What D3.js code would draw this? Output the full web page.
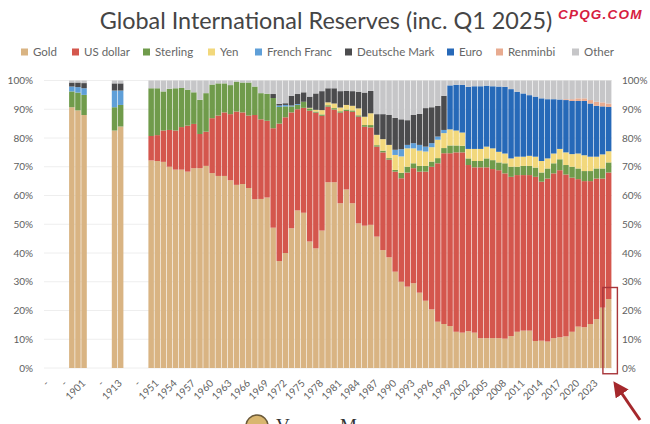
<!DOCTYPE html>
<html>
<head>
<meta charset="utf-8">
<script src="https://cdn.jsdelivr.net/npm/d3@7"></script>
<style>
  html, body { margin: 0; padding: 0; background: #fff; overflow: hidden; }
  text { font-family: Lato, "Open Sans", sans-serif; }
</style>
</head>
<body>
<script>
// slots on the x axis, letters are empty years in the original axis
const years = [1899,1900,1901,1912,1913].concat(d3.range(1950, 2026));
const slots = ["a","b","c","d",1899,1900,1901,"e","f","g","h",1912,1913,"i","j","k","l"].concat(d3.range(1950, 2026));
const tickLabels = ["-","-","1901","-","1913","-","1951","1954","1957","1960","1963","1966","1969","1972","1975","1978","1981","1984","1987","1990","1993","1996","1999","2002","2005","2008","2011","2014","2017","2020","2023"];
const yTicks = [0,10,20,30,40,50,60,70,80,90,100];

const names = ["Gold","US dollar","Sterling","Yen","French Franc","Deutsche Mark","Euro","Renminbi","Other"];
const colors = ["#d9b483","#d4574d","#6f9b4b","#f2d87c","#5f9fd8","#4c4c4e","#2769b8","#e8ab90","#c6c6c8"];

const gold = [90.7,89.6,88,82.6,84,
  72.2,72,71.7,70,69,69,68.3,69.5,69.5,70.3,67.8,66.8,66.8,65.3,63.7,64,62.6,58.7,58.8,59.3,48.8,37.2,40,48.6,54.8,54,44,41.6,47.8,64.6,64.6,57.3,62.1,57.3,50.3,49.5,49.8,45.7,41,38.5,33.5,30,28.3,29.5,26.2,23.4,20.4,16.1,15.3,14.6,12.6,12.3,12.8,12.3,10.4,10.4,10.4,10.4,10.2,11.1,12.6,13,13,9.4,9.5,9.2,10.4,10.7,11,12.6,14.4,14.2,15.3,17,21,24];
const usd = [0,0,0,0,0,
  8.5,9,10.9,12.8,13.6,14.8,16,15.4,11.9,11.9,19.1,21,22.1,23,25.5,24.9,25.2,29.3,27.7,26.7,34.6,47.8,47.2,40.3,35.2,36.5,45.5,47.2,39.9,26.3,25.3,31.5,27.3,31.8,37.1,34.4,33.9,31.3,34,34,34.8,36,39.7,40,42.1,44.9,49.6,55.1,59.4,60.1,62.4,62.7,57.8,57.5,59.4,59.4,58.8,58.4,57.5,55.4,54.5,54.1,54.1,57.1,55.3,56.7,57.3,58.1,56.3,53.6,51.3,50.8,49.7,48.9,44.9,44];
const sterling = [5.5,6.2,7,8.1,7.5,
  16.6,16.3,13.6,14.3,14.7,13.6,12.5,11,11.9,13.4,11.7,11.2,10.1,10.1,10.4,10.4,11.5,9.9,9.1,9.4,10.5,5.8,3.8,2.1,1.5,2.1,0.8,0.4,0.5,0.5,0.5,0.5,0.5,0.5,0.5,0.6,0.8,0.5,0.6,0.5,0.6,1.9,2,1.7,2,2,1.8,1.8,1.8,2.7,2.4,2.3,2.3,2.2,2.2,3.1,3.1,2.7,3.5,3.5,2.9,3.2,3.2,3.2,3.2,3.5,3.5,3.8,3.3,3.8,3.7,3.5,3.5,3.5,3.5,3.5];
const yen = [0,0,0,0,0,
  0,0,0,0,0,0,0,0,0,0,0,0,0,0,0,0,0,0,0,0,0,0,0,0,0,0,0.2,0.6,1.5,1,1.6,1.3,1.6,1.6,2.4,2.9,4.1,3.6,4,4.6,5.2,5.7,6.4,5.2,5.3,5,5,6.4,5.2,5.6,5.2,4.6,3.3,4.2,4.2,4.1,4.1,3.7,3.4,2.9,3.5,3.2,3.5,3.8,4,3.5,3.4,3.6,4.4,4.4,5.2,5.5,5,4.1,4.9,3.9];
const franc = [1.7,1.9,2.3,5.8,5,
  0,0,0,0,0,0,0,0,0,0,0,0,0,0,0,0,0,0,0,0,0,0.5,0.5,0.3,0.3,0,0,0,0,0,0,0,0,0,0,0,0,0,0,0,1.8,2.5,1.2,1.8,2,1.7,1.4,1.1,1.1,0,0,0,0,0,0,0,0,0,0,0,0,0,0,0,0,0,0,0,0,0,0,0,0,0,0,0];
const mark = [1.4,1.6,1.8,2.5,2.5,
  0,0,0,0,0,0,0,0,0,0,0,0,0,0,0,0,0,0,0,0,1.4,0.6,0.6,3.4,3.5,3.3,3.9,5.7,6.6,4.9,5.3,5.7,4.9,5.1,5.8,8.4,7.8,7.2,8.7,10.4,11.1,10.4,8.6,9.8,10.8,13.4,12.5,10.7,11.9,0,0,0,0,0,0,0,0,0,0,0,0,0,0,0,0,0,0,0,0,0,0,0,0,0,0,0];
const euro = [0,0,0,0,0,
  0,0,0,0,0,0,0,0,0,0,0,0,0,0,0,0,0,0,0,0,0,0,0,0,0,0,0,0,0,0,0,0,0,0,0,0,0,0,0,0,0,0,0,0,0,0,0,0,0,15.3,15.9,16.6,21.6,21.8,21.8,21.2,21.6,22.7,23.2,24.1,22.6,22,21.1,20.9,21.8,20.6,18.9,17.2,18.2,18.5,18.3,18.9,18.5,17.7,16.7,15.4];
const renminbi = [0,0,0,0,0,
  0,0,0,0,0,0,0,0,0,0,0,0,0,0,0,0,0,0,0,0,0,0,0,0,0,0,0,0,0,0,0,0,0,0,0,0,0,0,0,0,0,0,0,0,0,0,0,0,0,0,0,0,0,0,0,0,0,0,0,0,0,0,0,0,0,0,0,0,0.3,0.6,0.9,0.9,1.2,1.4,1.4,1.2];
const other = [0.7,0.7,0.9,1,1,
  2.7,2.7,3.8,2.9,2.7,2.6,3.2,4.1,6.7,4.4,1.4,1,1,1.6,0.4,0.7,0.7,2.1,4.4,4.6,4.7,8.1,7.9,5.3,4.7,4.1,5.6,4.5,3.7,2.7,2.7,3.7,3.6,3.7,3.9,4.2,3.6,11.7,11.7,12,13,13.5,13.8,12,11.6,9.6,9.3,8.8,5.3,1.7,1.5,1.5,2.2,2,2,1.8,2,2.1,2.2,3,3.9,4.5,5.1,5.6,6.2,6.5,6.5,6.6,6.5,6.5,6.2,6.2,6.8,7.4,7.6,8];

const allSeries = [gold,usd,sterling,yen,franc,mark,euro,renminbi,other];

const width = 650, height = 424;

const svg = d3.select("body").append("svg")
  .attr("width", width)
  .attr("height", height)
  .style("display", "block");

const defs = svg.append("defs");
defs.append("filter").attr("id", "soft")
  .append("feGaussianBlur").attr("stdDeviation", 0.6);
defs.append("marker").attr("id", "head")
  .attr("viewBox", "0 0 10 10").attr("refX", 7).attr("refY", 5)
  .attr("markerWidth", 5.2).attr("markerHeight", 5.2).attr("orient", "auto")
  .append("path").attr("d", "M0,0L10,5L0,10Z").attr("fill", "#a5282c");

const x = d3.scaleBand().domain(slots).range([44.4, 611.7]).paddingInner(0.1).paddingOuter(0.05);
const y = d3.scaleLinear().domain([0, 100]).range([368, 80.5]);

// grid
svg.append("g").selectAll("line").data(yTicks).join("line")
  .attr("x1", 44).attr("x2", 612)
  .attr("y1", d => y(d)).attr("y2", d => y(d))
  .attr("stroke", "#eeeeee");

// stacked bars
const rows = years.map((yr, i) => {
  const row = { year: yr };
  names.forEach((n, j) => { row[n] = allSeries[j][i]; });
  return row;
});
const stack = d3.stack().keys(names)(rows);

svg.append("g").attr("filter", "url(#soft)")
  .selectAll("g").data(stack).join("g")
  .attr("fill", (d, i) => colors[i])
  .selectAll("rect").data(d => d).join("rect")
  .attr("x", d => x(d.data.year))
  .attr("width", x.bandwidth())
  .attr("y", d => y(d[1]))
  .attr("height", d => y(d[0]) - y(d[1]));

// axes
function styleAxis(g) {
  g.select(".domain").remove();
  g.selectAll(".tick line").remove();
  g.selectAll("text").attr("fill", "#606060").style("font-size", "10px");
}
svg.append("g").attr("transform", "translate(42,0)")
  .call(d3.axisLeft(y).tickValues(yTicks).tickFormat(d => d + "%"))
  .call(styleAxis);
svg.append("g").attr("transform", "translate(613,0)")
  .call(d3.axisRight(y).tickValues(yTicks).tickFormat(d => d + "%"))
  .call(styleAxis);

const tickSlots = slots.filter((d, i) => i % 3 == 0);
svg.append("g").attr("transform", "translate(0,368)")
  .call(d3.axisBottom(x).tickValues(tickSlots).tickFormat((d, i) => tickLabels[i]))
  .call(styleAxis)
  .selectAll("text")
  .attr("text-anchor", "end")
  .attr("dy", 0).attr("y", 0)
  .attr("transform", "translate(2,16) rotate(-45)");

// title and watermark
svg.append("text").attr("x", 326).attr("y", 29)
  .attr("text-anchor", "middle").attr("fill", "#454545")
  .style("font-size", "23.4px").text("Global International Reserves (inc. Q1 2025)");
svg.append("text").attr("x", 558).attr("y", 19)
  .attr("fill", "#d6203f").style("font-size", "13.5px")
  .style("font-weight", "bold").style("font-style", "italic").style("letter-spacing", "1.2px")
  .style("font-family", "'Liberation Sans', sans-serif")
  .text("CPQG.COM");

// legend
const legendX = [21,72,143,208,255,345,447,496,572];
const legend = svg.append("g").selectAll("g").data(names).join("g")
  .attr("transform", (d, i) => `translate(${legendX[i]},52)`);
legend.append("rect").attr("y", -3.5).attr("width", 7).attr("height", 7)
  .attr("fill", (d, i) => colors[i]);
legend.append("text").attr("x", 12).attr("y", 4)
  .attr("fill", "#666").style("font-size", "11.5px").text(d => d);

// highlight on the last bar
const last = slots[slots.length - 1];
svg.append("rect")
  .attr("x", x(last) - 3)
  .attr("width", x.bandwidth() + 9)
  .attr("y", y(28))
  .attr("height", y(-2) - y(28))
  .attr("fill", "none").attr("stroke", "#a8353a").attr("stroke-width", 1.4);
svg.append("line")
  .attr("x1", 640).attr("y1", 420).attr("x2", 616).attr("y2", 385)
  .attr("stroke", "#a5282c").attr("stroke-width", 3)
  .attr("marker-end", "url(#head)");

// logo cut by the bottom edge of the picture
svg.append("circle").attr("cx", 257).attr("cy", 426).attr("r", 11)
  .attr("fill", "#d9b66f").attr("stroke", "#6b5a3a").attr("stroke-width", 1.5);
svg.append("text").attr("x", 276).attr("y", 432)
  .attr("fill", "#333").style("font-size", "19px").style("font-family", "'Liberation Serif', serif")
  .text("V");
svg.append("text").attr("x", 340).attr("y", 432)
  .attr("fill", "#333").style("font-size", "19px").style("font-family", "'Liberation Serif', serif")
  .text("M");
</script>
</body>
</html>
